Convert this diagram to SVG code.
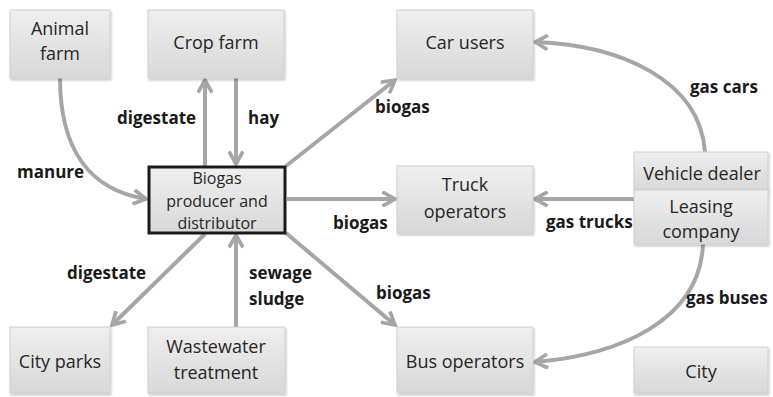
<svg xmlns="http://www.w3.org/2000/svg" width="773" height="397" viewBox="0 0 773 397">
  <style>
    .box { fill: url(#boxFill); stroke: #cfcfcf; stroke-width: 1; filter: url(#shadow); }
    .hub { fill: url(#boxFill); stroke: #1a1a1a; stroke-width: 3; }
    .name { font-family: "Open Sans", "Liberation Sans", sans-serif; font-size: 18px; fill: #262626; text-anchor: middle; }
    .hubname { font-family: "Open Sans", "Liberation Sans", sans-serif; font-size: 16px; fill: #262626; text-anchor: middle; }
    .flow { font-family: "Open Sans", "Liberation Sans", sans-serif; font-size: 17px; font-weight: bold; fill: #1a1a1a; }
    .link { fill: none; stroke: #a6a6a6; stroke-width: 4; marker-end: url(#head); }
  </style>
  <defs>
    <linearGradient id="boxFill" x1="0" y1="0" x2="0" y2="1">
      <stop offset="0" stop-color="#efefef"/>
      <stop offset="1" stop-color="#d8d8d8"/>
    </linearGradient>
    <filter id="shadow" x="-10%" y="-10%" width="125%" height="130%">
      <feDropShadow dx="1" dy="2" stdDeviation="1.2" flood-color="#000" flood-opacity="0.22"/>
    </filter>
    <marker id="head" viewBox="0 0 10 10" refX="8.5" refY="5" markerWidth="4.2" markerHeight="4.2" orient="auto" markerUnits="strokeWidth">
      <path d="M1,0.8 L8.5,5 L1,9.2" fill="none" stroke="#a6a6a6" stroke-width="2.2" stroke-linejoin="miter"/>
    </marker>
  </defs>

  <rect width="773" height="397" fill="#ffffff"/>

  <!-- connectors -->
  <g id="connectors">
    <path class="link" d="M60,78 C60,150 90,190 146,199"/>
    <path class="link" d="M205,166 L205,80"/>
    <path class="link" d="M236,78 L236,164"/>
    <path class="link" d="M286,166 L395,80"/>
    <path class="link" d="M287,199 L395,199"/>
    <path class="link" d="M286,233 L395,325"/>
    <path class="link" d="M205,234 L112,325"/>
    <path class="link" d="M236,327 L236,235"/>
    <path class="link" d="M705,152 C700,80 620,45 535,42"/>
    <path class="link" d="M634,199 L535,199"/>
    <path class="link" d="M703,244 C700,320 620,355 535,362"/>
  </g>

  <!-- flow labels -->
  <g id="flow-labels">
    <text class="flow" x="17" y="178">manure</text>
    <text class="flow" x="117" y="124">digestate</text>
    <text class="flow" x="248" y="124">hay</text>
    <text class="flow" x="375" y="113">biogas</text>
    <text class="flow" x="333" y="229">biogas</text>
    <text class="flow" x="376" y="299">biogas</text>
    <text class="flow" x="67" y="279">digestate</text>
    <text class="flow" x="249" y="279">sewage</text>
    <text class="flow" x="249" y="305">sludge</text>
    <text class="flow" x="690" y="93">gas cars</text>
    <text class="flow" x="546" y="228">gas trucks</text>
    <text class="flow" x="686" y="304">gas buses</text>
  </g>

  <!-- nodes -->
  <g id="animal-farm">
    <rect class="box" x="10" y="10" width="100" height="68"/>
    <text class="name" x="60" y="35">Animal</text>
    <text class="name" x="60" y="60">farm</text>
  </g>
  <g id="crop-farm">
    <rect class="box" x="148" y="10" width="136" height="68"/>
    <text class="name" x="216" y="49">Crop farm</text>
  </g>
  <g id="car-users">
    <rect class="box" x="397" y="10" width="136" height="68"/>
    <text class="name" x="465" y="49">Car users</text>
  </g>
  <g id="biogas-hub">
    <rect class="hub" x="149" y="167" width="136" height="66"/>
    <text class="hubname" x="217" y="184">Biogas</text>
    <text class="hubname" x="217" y="207">producer and</text>
    <text class="hubname" x="217" y="229">distributor</text>
  </g>
  <g id="truck-operators">
    <rect class="box" x="397" y="166" width="136" height="67"/>
    <text class="name" x="465" y="191">Truck</text>
    <text class="name" x="465" y="218">operators</text>
  </g>
  <g id="vehicle-dealer">
    <rect class="box" x="634" y="152" width="134" height="38"/>
    <text class="name" x="702" y="180">Vehicle dealer</text>
  </g>
  <g id="leasing-company">
    <rect class="box" x="634" y="190" width="134" height="54"/>
    <text class="name" x="701" y="213">Leasing</text>
    <text class="name" x="701" y="238">company</text>
  </g>
  <g id="city-parks">
    <rect class="box" x="10" y="327" width="100" height="66"/>
    <text class="name" x="60" y="368">City parks</text>
  </g>
  <g id="wastewater-treatment">
    <rect class="box" x="148" y="327" width="137" height="66"/>
    <text class="name" x="216" y="353">Wastewater</text>
    <text class="name" x="216" y="379">treatment</text>
  </g>
  <g id="bus-operators">
    <rect class="box" x="397" y="327" width="136" height="66"/>
    <text class="name" x="465" y="368">Bus operators</text>
  </g>
  <g id="city">
    <rect class="box" x="634" y="347" width="134" height="46"/>
    <text class="name" x="701" y="378">City</text>
  </g>
</svg>
